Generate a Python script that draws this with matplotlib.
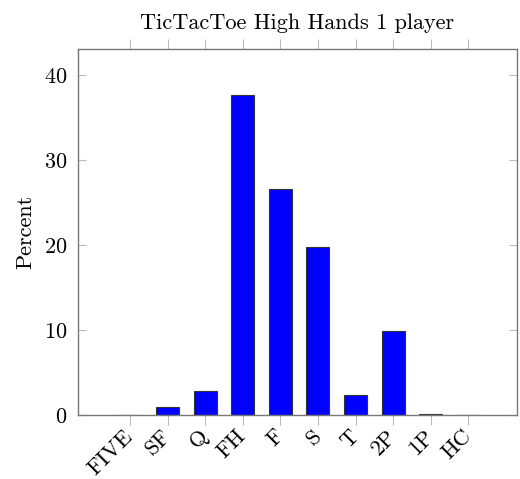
import matplotlib
matplotlib.use("Agg")
import matplotlib.pyplot as plt

# hand categories and share of high hands (percent)
hands = ["FIVE", "SF", "Q", "FH", "F", "S", "T", "2P", "1P", "HC"]
percent = [0.0, 0.9, 2.8, 37.6, 26.6, 19.8, 2.3, 9.9, 0.1, 0.0]
yticks = [0, 10, 20, 30, 40]

plt.rcParams["font.family"] = ["cmr10", "DejaVu Serif"]
plt.rcParams["axes.formatter.use_mathtext"] = True

fig = plt.figure(figsize=(5.2, 4.79), dpi=100)
ax = fig.add_axes([0.15, 0.1336, 0.844, 0.7644])

x = list(range(len(hands)))
ax.bar(x, percent, width=0.61, color="#0000ff", edgecolor="#333333", linewidth=0.8)

ax.set_xlim(-1.38, 10.29)
ax.set_ylim(0, 43.06)
ax.set_xticks(x)
ax.set_xticklabels(hands, rotation=45, ha="right", va="center", rotation_mode="anchor", fontsize=16)
ax.set_yticks(yticks)
ax.tick_params(axis="y", labelsize=16, direction="in", left=True, right=True, length=6,
               color="#bbbbbb", pad=8)
ax.tick_params(axis="x", direction="out", top=True, bottom=True, length=7, color="#bbbbbb", pad=6)
for s in ax.spines.values():
    s.set_color("#777777")
    s.set_linewidth(1.0)

ax.set_ylabel("Percent", fontsize=16, labelpad=6)
ax.set_title("TicTacToe High Hands 1 player", fontsize=16, pad=14)

fig.savefig("out.png", dpi=100)
